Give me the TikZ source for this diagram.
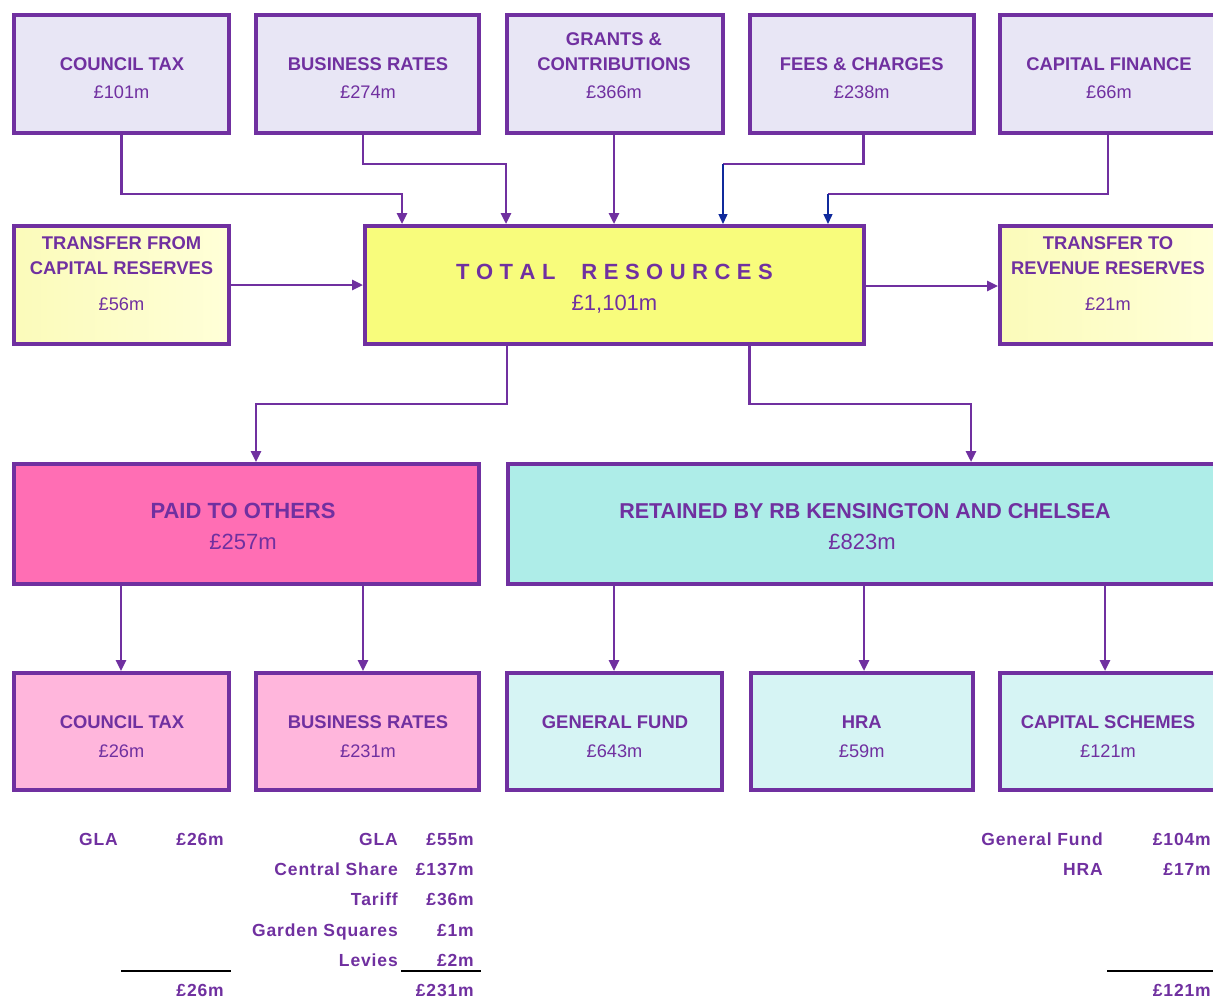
\documentclass[tikz,border=0pt]{standalone}
\usepackage{fontspec}
\setmainfont{Liberation Sans}
\usetikzlibrary{arrows.meta}
\definecolor{pur}{HTML}{7030A0}
\definecolor{lav}{HTML}{E8E6F5}
\definecolor{ylw}{HTML}{F8FC7C}
\definecolor{ylwL}{HTML}{FBFBBA}
\definecolor{ylwR}{HTML}{FFFFD8}
\definecolor{hpink}{HTML}{FF6EB4}
\definecolor{lpink}{HTML}{FFB6DC}
\definecolor{aqua}{HTML}{AEEDE8}
\definecolor{laqua}{HTML}{D6F4F4}
\definecolor{navy}{HTML}{102A9C}
\newcommand\ttl{T\kern6.5pt O\kern6.5pt T\kern6.5pt A\kern6.5pt L\kern26pt R\kern6.5pt E\kern6.5pt S\kern6.5pt O\kern6.5pt U\kern6.5pt R\kern6.5pt C\kern6.5pt E\kern6.5pt S}
\begin{document}
\begin{tikzpicture}[x=1pt,y=-1pt,
  box/.style n args={2}{draw=pur,line width=4pt,inner sep=0pt,minimum width=#1pt,minimum height=#2pt},
  lbl/.style={text=pur,font=\bfseries\fontsize{18.4}{20}\selectfont,anchor=base,inner sep=0pt},
  amt/.style={text=pur,font=\fontsize{18.2}{20}\selectfont,anchor=base,inner sep=0pt},
  biglbl/.style={text=pur,font=\bfseries\fontsize{22}{24}\selectfont,anchor=base,inner sep=0pt},
  bigamt/.style={text=pur,font=\fontsize{22}{24}\selectfont,anchor=base,inner sep=0pt},
  tbl/.style={text=pur,font=\bfseries\fontsize{17.5}{20}\selectfont\addfontfeature{LetterSpace=5},anchor=base east,inner sep=0pt},
  conn/.style={draw=pur,line width=2.6pt,-{Triangle[length=11pt,width=10pt]}},
  nconn/.style={draw=navy,line width=1.4pt,-{Triangle[length=10pt,width=9pt]}},
  pline/.style={draw=pur,line width=2.6pt},
  rule/.style={draw=black,line width=2pt}
]
\useasboundingbox (0,0) rectangle (1213,999);
\clip (0,0) rectangle (1213,999);
\fill[white] (0,0) rectangle (1213,999);

% row 1
\node[box={215}{118},fill=lav] (ct) at (121.5,74) {};
\node[box={223}{118},fill=lav] (br) at (367.5,74) {};
\node[box={216}{118},fill=lav] (gc) at (615,74) {};
\node[box={223.5}{118},fill=lav] (fc) at (861.75,74) {};
\node[box={218}{118},fill=lav] (cf) at (1109,74) {};
% row 2
\node[box={215}{118},left color=ylwL,right color=ylwR] (tfc) at (121.5,285) {};
\node[box={499}{118},fill=ylw] (tot) at (614.5,285) {};
\node[box={218}{118},left color=ylwL,right color=ylwR] (ttr) at (1109,285) {};
% row 3
\node[box={465}{120},fill=hpink] (pto) at (246.5,524) {};
\node[box={712}{120},fill=aqua] (ret) at (864,524) {};
% row 4
\node[box={215}{117},fill=lpink] (bct) at (121.5,731.5) {};
\node[box={223}{117},fill=lpink] (bbr) at (367.5,731.5) {};
\node[box={215}{117},fill=laqua] (gf) at (614.5,731.5) {};
\node[box={222.5}{117},fill=laqua] (hra) at (861.75,731.5) {};
\node[box={218}{117},fill=laqua] (cs) at (1109,731.5) {};

% texts row 1
\node[lbl] (t1a) at (122,70) {COUNCIL TAX};
\node[amt] (t1b) at (121.5,98) {£101m};
\node[lbl] (t2a) at (368,70) {BUSINESS RATES};
\node[amt] (t2b) at (368,98) {£274m};
\node[lbl] (t3a) at (614,45) {GRANTS \&};
\node[lbl] (t3b) at (614,70) {CONTRIBUTIONS};
\node[amt] (t3c) at (614,98) {£366m};
\node[lbl] (t4a) at (861.75,70) {FEES \& CHARGES};
\node[amt] (t4b) at (861.75,98) {£238m};
\node[lbl] (t5a) at (1109,70) {CAPITAL FINANCE};
\node[amt] (t5b) at (1109,98) {£66m};
% texts row 2
\node[lbl] (t6a) at (121.5,249) {TRANSFER FROM};
\node[lbl] (t6b) at (121.5,274) {CAPITAL RESERVES};
\node[amt] (t6c) at (121.5,310) {£56m};
\node[biglbl] (t7a) at (614.5,279) {\ttl};
\node[bigamt] (t7b) at (614.5,310) {£1,101m};
\node[lbl] (t8a) at (1108,249) {TRANSFER TO};
\node[lbl] (t8b) at (1108,274) {REVENUE RESERVES};
\node[amt] (t8c) at (1108,310) {£21m};
% texts row 3
\node[biglbl] (t9a) at (243,518) {PAID TO OTHERS};
\node[bigamt] (t9b) at (243,549) {£257m};
\node[biglbl,font=\bfseries\fontsize{21.5}{24}\selectfont] (t10a) at (865,518) {RETAINED BY RB KENSINGTON AND CHELSEA};
\node[bigamt] (t10b) at (862,549) {£823m};
% texts row 4
\node[lbl] (t11a) at (122,728) {COUNCIL TAX};
\node[amt] (t11b) at (121.5,757) {£26m};
\node[lbl] (t12a) at (368,728) {BUSINESS RATES};
\node[amt] (t12b) at (368,757) {£231m};
\node[lbl] (t13a) at (615,728) {GENERAL FUND};
\node[amt] (t13b) at (614.5,757) {£643m};
\node[lbl] (t14a) at (861.75,728) {HRA};
\node[amt] (t14b) at (861.75,757) {£59m};
\node[lbl] (t15a) at (1108,728) {CAPITAL SCHEMES};
\node[amt] (t15b) at (1108,757) {£121m};

% connectors top
\coordinate (k1) at (402,194);
\coordinate (k2) at (506,164);
\coordinate (k4) at (723,164);
\coordinate (k5) at (828,194);
\draw[conn] (ct.south) |- (k1) -- (k1 |- tot.north);
\draw[conn] ([xshift=-4.5pt]br.south) |- (k2) -- (k2 |- tot.north);
\draw[conn] ([xshift=-1pt]gc.south) -- ([xshift=-1pt]gc.south |- tot.north);
\draw[pline] ([xshift=2pt]fc.south) |- (k4);
\draw[nconn] (k4) -- (k4 |- tot.north);
\draw[pline] ([xshift=-1pt]cf.south) |- (k5);
\draw[nconn] (k5) -- (k5 |- tot.north);
\draw[conn] (tfc.east) -- (tot.west);
\draw[conn] ([yshift=-1pt]tot.east) -- ([yshift=-1pt]ttr.west);
% connectors middle
\coordinate (k6) at (256,404);
\coordinate (k7) at (971,404);
\draw[conn] ([xshift=-107.5pt]tot.south) |- (k6) -- (k6 |- pto.north);
\draw[conn] ([xshift=135pt]tot.south) |- (k7) -- (k7 |- ret.north);
% connectors lower
\coordinate (p1) at (121,0);
\coordinate (p2) at (363,0);
\coordinate (p3) at (614,0);
\coordinate (p4) at (864,0);
\coordinate (p5) at (1105,0);
\draw[conn] (p1 |- pto.south) -- (p1 |- bct.north);
\draw[conn] (p2 |- pto.south) -- (p2 |- bbr.north);
\draw[conn] (p3 |- ret.south) -- (p3 |- gf.north);
\draw[conn] (p4 |- ret.south) -- (p4 |- hra.north);
\draw[conn] (p5 |- ret.south) -- (p5 |- cs.north);

% tables
\node[tbl] (a1) at (118,845) {GLA};
\node[tbl] (a2) at (224,845) {£26m};
\node[tbl] (a3) at (224,996) {£26m};
\draw[rule] (121,971) -- (231,971);

\node[tbl] (b1) at (398,845) {GLA};
\node[tbl] (b2) at (474,845) {£55m};
\node[tbl] (b3) at (398,875) {Central Share};
\node[tbl] (b4) at (474,875) {£137m};
\node[tbl] (b5) at (398,905) {Tariff};
\node[tbl] (b6) at (474,905) {£36m};
\node[tbl] (b7) at (398,936) {Garden Squares};
\node[tbl] (b8) at (474,936) {£1m};
\node[tbl] (b9) at (398,966) {Levies};
\node[tbl] (b10) at (474,966) {£2m};
\node[tbl] (b11) at (474,996) {£231m};
\draw[rule] (401,971) -- (481,971);

\node[tbl] (c1) at (1103,845) {General Fund};
\node[tbl] (c2) at (1211,845) {£104m};
\node[tbl] (c3) at (1103,875) {HRA};
\node[tbl] (c4) at (1211,875) {£17m};
\node[tbl] (c5) at (1211,996) {£121m};
\draw[rule] (1107,971) -- (1213,971);
\end{tikzpicture}
\end{document}
